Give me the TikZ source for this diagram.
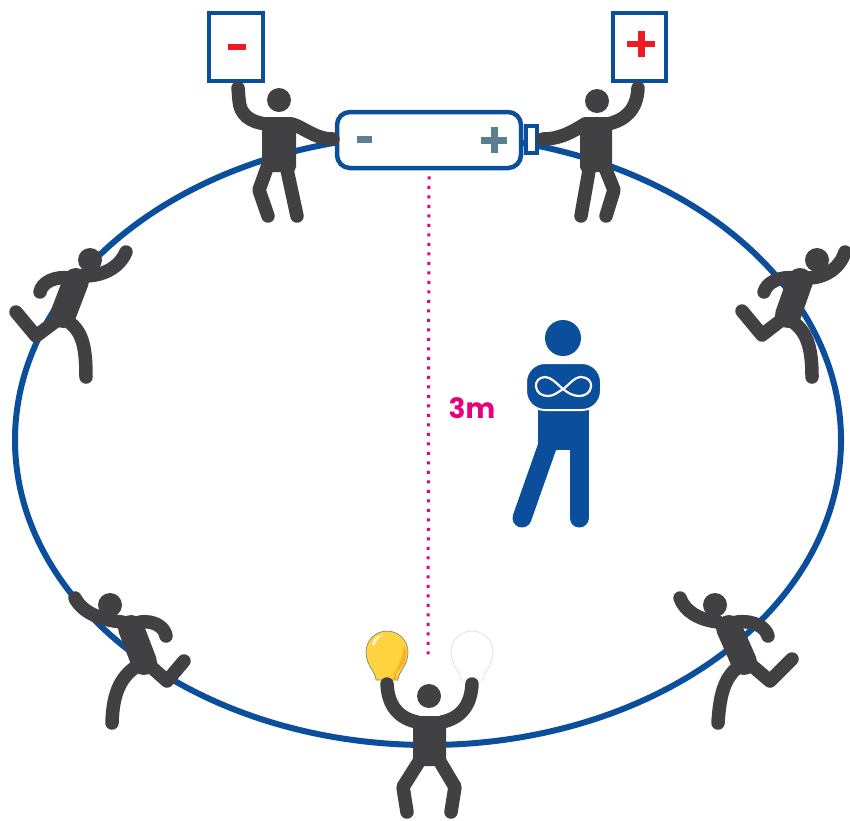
\documentclass[tikz,border=0pt]{standalone}
\usepackage{fontspec}
\setsansfont{Poppins}
\begin{document}
\definecolor{ringblue}{HTML}{0B4F9C}
\definecolor{figgray}{HTML}{414042}
\definecolor{dotpink}{HTML}{E6007E}
\definecolor{signred}{HTML}{ED1C24}
\definecolor{cellmark}{HTML}{5B7F8F}
\definecolor{bulbyellow}{HTML}{FDD33F}
\definecolor{bulbshade}{HTML}{F4B329}
\begin{tikzpicture}[x=1pt,y=-1pt,
  limb/.style={draw=figgray,line width=13.5pt,line cap=round,line join=round},
  trunk/.style={draw=figgray,line width=26pt,line cap=round},
  headc/.style={fill=figgray},
  sign/.style={draw=ringblue,line width=4pt,fill=white},
  battery/.style={draw=ringblue,line width=4.5pt,fill=white,rounded corners=13pt,minimum width=184pt,minimum height=56pt,inner sep=0pt},
  bluelimb/.style={draw=ringblue,line width=19pt,line cap=round}]
\useasboundingbox (0,0) rectangle (850,820);

% circuit loop
\draw[ringblue,line width=6pt] (428,440) ellipse[x radius=413pt,y radius=305pt];

% battery cell
\node[battery] (bat) at (429,140) {};
\draw[ringblue,line width=3.5pt,fill=white] (526,126) rectangle (537,153);
\fill[cellmark] (357,136) rectangle (372,143);
\fill[cellmark] (481,137) rectangle (507,144);
\fill[cellmark] (490.5,127) rectangle (497.5,153);

% distance marker
\coordinate (lamp) at (428,660);
\draw[dotpink,line width=3pt,dash pattern=on 3pt off 6.5pt] (bat.south) ++(0,6) -- (lamp);
\node[text=dotpink,font=\sffamily\bfseries\fontsize{28}{28}\selectfont] (dist) at (472,408) {3m};

% signs
\draw[sign] (209,13) rectangle (263,81);
\fill[signred] (228,44) rectangle (246,50);
\draw[sign] (613,13) rectangle (666,81);
\fill[signred] (627,41) rectangle (655,47);
\fill[signred] (638,31) rectangle (645,57);

% holder of the minus sign
\fill[headc] (279,100) circle[radius=12pt];
\fill[figgray,rounded corners=5pt] (262,117) rectangle (296,172);
\draw[limb] (238,88) -- (239,100) .. controls (240,115) and (250,122) .. (266,124);
\draw[limb] (292,124) .. controls (305,128) and (315,139) .. (333,139);
\draw[limb] (268,165) -- (259,190) -- (268,216);
\draw[limb] (286,165) -- (297,216);

% holder of the plus sign
\fill[headc] (597,101) circle[radius=12pt];
\fill[figgray,rounded corners=5pt] (580,117) rectangle (612,172);
\draw[limb] (608,124) .. controls (625,120) and (637,110) .. (638,88);
\draw[limb] (585,124) .. controls (572,132) and (560,139) .. (543,139);
\draw[limb] (590,165) -- (581,216);
\draw[limb] (604,165) -- (614,190) -- (606,216);

% lamps
\draw[figgray!70,line width=0.6pt,fill=bulbyellow]
  (376,680) .. controls (376,672) and (366,666) .. (366,652)
  arc[start angle=180,end angle=0,radius=21pt]
  .. controls (408,666) and (398,672) .. (398,680) -- cycle;
\fill[bulbshade] (404,645) .. controls (410,658) and (402,668) .. (396,672)
  .. controls (396,678) and (397,680) .. (398,680) -- (393,680)
  .. controls (393,672) and (403,662) .. (404,645) -- cycle;
\fill[white,opacity=0.7] (372,644) .. controls (373,638) and (378,635) .. (383,635)
  .. controls (379,638) and (376,641) .. (374,646) -- cycle;
\draw[black!12,line width=0.8pt,fill=white]
  (461,680) .. controls (461,672) and (451,666) .. (451,652)
  arc[start angle=180,end angle=0,radius=21pt]
  .. controls (493,666) and (483,672) .. (483,680) -- cycle;

% lamp holder
\fill[headc] (429,696) circle[radius=12pt];
\fill[figgray,rounded corners=5pt] (413,716) rectangle (446,766);
\draw[limb] (417,722) .. controls (398,718) and (388,705) .. (387,684);
\draw[limb] (442,722) .. controls (461,718) and (471,705) .. (472,684);
\draw[limb] (420,760) -- (403,787) -- (407,812);
\draw[limb] (439,760) -- (455,787) -- (451,812);

% runner, upper left
\fill[headc] (90,260) circle[radius=12pt];
\draw[trunk] (76,281) -- (63,315);
\draw[limb] (84,276) .. controls (100,276) and (118,270) .. (126,252);
\draw[limb] (70,278) .. controls (55,276) and (42,282) .. (40,292);
\draw[limb] (60,318) -- (36,336) -- (16,312);
\draw[limb] (66,320) .. controls (82,330) and (86,345) .. (86,377);

% runner, upper right
\fill[headc] (817,260) circle[radius=12pt];
\draw[trunk] (800,281) -- (788,315);
\draw[limb] (808,278) .. controls (825,278) and (840,268) .. (845,252);
\draw[limb] (795,278) .. controls (780,276) and (767,282) .. (764,292);
\draw[limb] (784,318) -- (762,335) -- (742,311);
\draw[limb] (790,320) .. controls (806,330) and (812,345) .. (812,377);

% runner, lower left
\fill[headc] (110,605) circle[radius=12pt];
\draw[trunk] (131,628) -- (144,662);
\draw[limb] (122,622) .. controls (100,620) and (82,612) .. (75,598);
\draw[limb] (140,622) .. controls (155,620) and (165,628) .. (166,636);
\draw[limb] (148,664) -- (167,681) -- (184,661);
\draw[limb] (140,664) .. controls (122,675) and (113,690) .. (112,723);

% runner, lower right
\fill[headc] (715,605) circle[radius=12pt];
\draw[trunk] (729,628) -- (744,662);
\draw[limb] (718,622) .. controls (700,620) and (685,612) .. (680,598);
\draw[limb] (737,622) .. controls (755,620) and (766,628) .. (768,636);
\draw[limb] (750,664) -- (770,681) -- (792,659);
\draw[limb] (742,664) .. controls (726,675) and (720,690) .. (718,723);

% onlooker with folded arms
\fill[ringblue] (563,338) circle[radius=18pt];
\fill[ringblue] (538,400) rectangle (589,450);
\draw[bluelimb] (547,447) -- (522,518);
\draw[bluelimb] (579,447) -- (579,518);
\fill[ringblue,draw=white,line width=2pt,rounded corners=19pt] (526,410) rectangle (601,363);
\draw[white,line width=2.2pt]
  (563,389) .. controls (556,383) and (551,377) .. (545,377)
  .. controls (539,377) and (535,382) .. (536,387)
  .. controls (537,393) and (542,396) .. (548,396)
  .. controls (554,396) and (558,392) .. (563,389)
  .. controls (568,386) and (574,377) .. (581,377)
  .. controls (588,377) and (592,382) .. (591,387)
  .. controls (590,393) and (585,396) .. (579,396)
  .. controls (573,396) and (568,393) .. (563,389) -- cycle;
\end{tikzpicture}
\end{document}
